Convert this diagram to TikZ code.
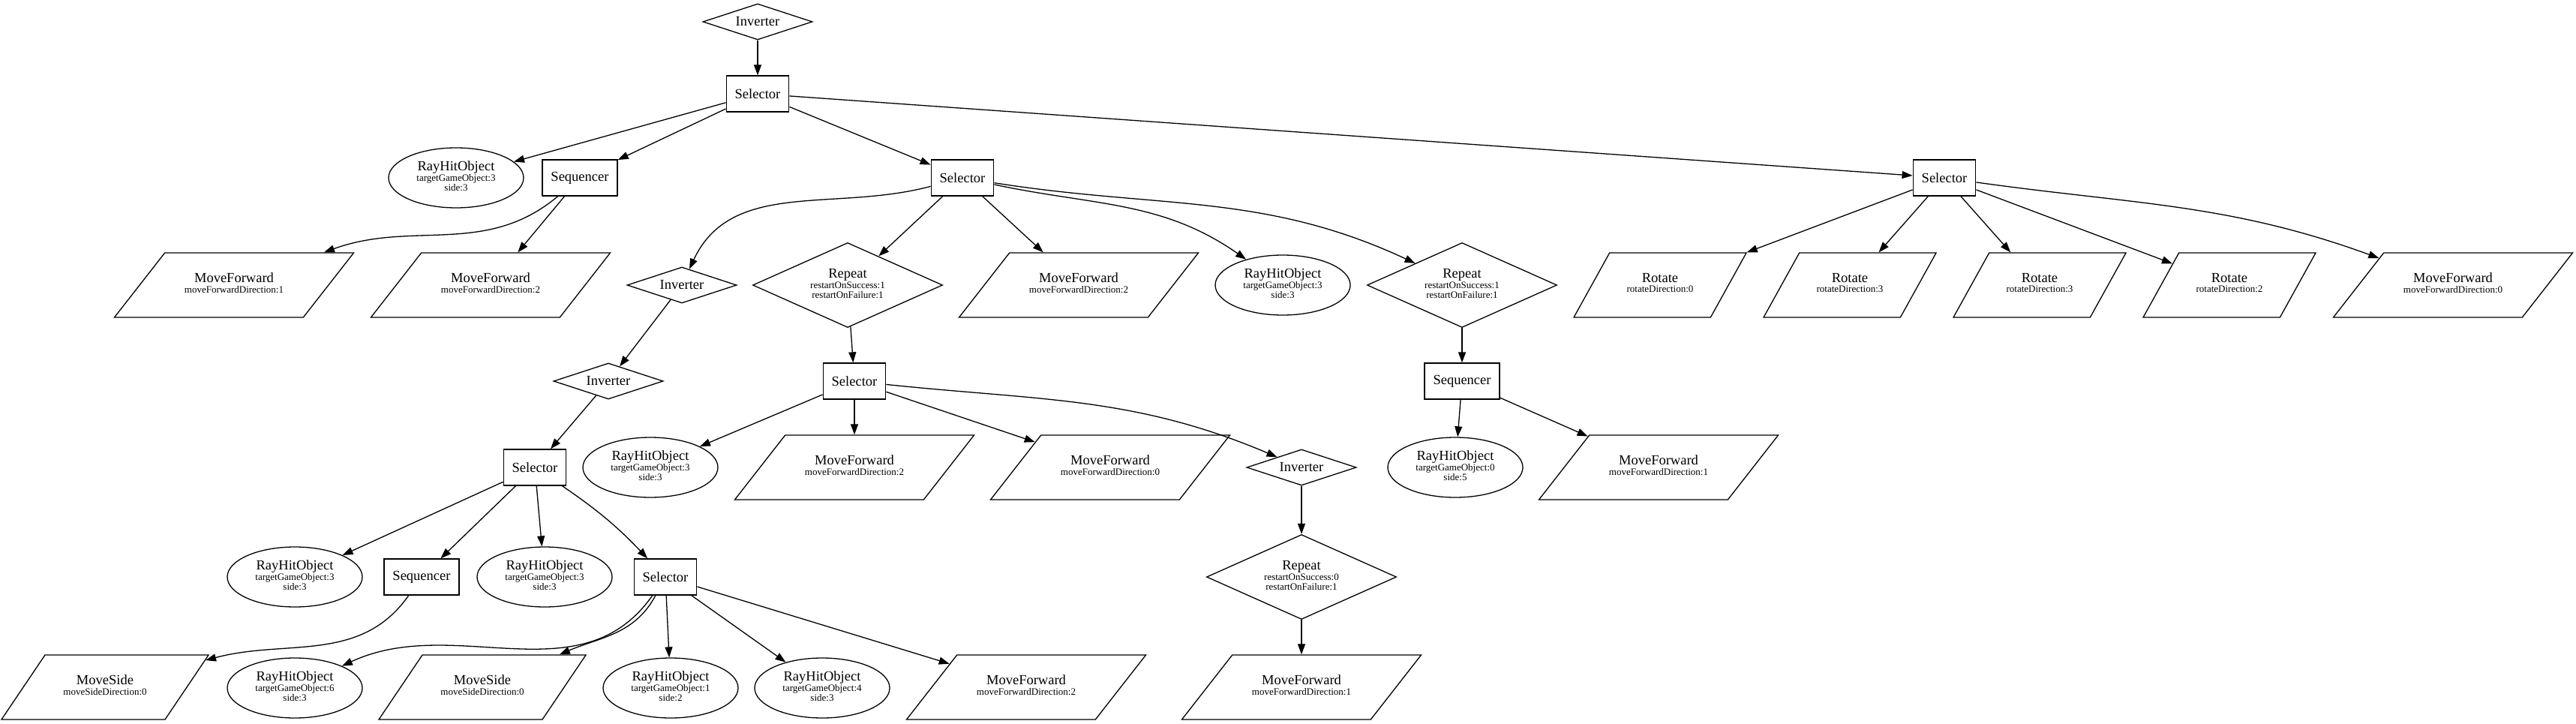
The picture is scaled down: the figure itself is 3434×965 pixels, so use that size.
\documentclass[tikz,border=0pt]{standalone}
\usepackage{fontspec}
\setmainfont{Liberation Serif}
\usetikzlibrary{shapes.geometric,arrows.meta}
\newcommand{\mainsize}{\fontsize{18.5}{20}\selectfont}
\newcommand{\subsize}{\fontsize{13}{13.5}\selectfont}
\newcommand{\nodelabel}[2]{\begin{tabular}{@{}c@{}}\mainsize #1\\ #2\end{tabular}}
\begin{document}
\begin{tikzpicture}[x=1pt, y=-1pt,
            every node/.style={draw, line width=1.3pt, inner sep=0pt, font=\subsize},
            selbox/.style={rectangle, inner xsep=11.5pt, minimum height=48pt, font=\mainsize},
            invdia/.style={diamond, aspect=3, minimum width=146pt, minimum height=48pt, font=\mainsize},
            repdia/.style={diamond, aspect=2.2, minimum width=253pt, minimum height=113pt},
            rayell/.style={ellipse, minimum width=180pt, minimum height=80pt},
            fwdpar/.style={trapezium, trapezium left angle=52, trapezium right angle=128, trapezium stretches body, text height=45pt, text depth=41pt, minimum width=319pt},
            rotpar/.style={fwdpar, trapezium left angle=61, trapezium right angle=119, minimum width=230pt},
            sidepar/.style={fwdpar, trapezium left angle=56, trapezium right angle=124, minimum width=276pt},
            link/.style={-{Triangle[length=14pt, width=10pt]}, line width=1.3pt},
        ]
            \useasboundingbox (0,0) rectangle (3434,965);
            \node(inv0) at (1010,29) [invdia] {Inverter};
            \node(sel0) at (1010,125) [selbox] {Selector};
            \node(ray1) at (608,237) [rayell] {\nodelabel{RayHitObject}{targetGameObject:3\\ side:3}};
            \node(seq1) at (773,237) [selbox] {Sequencer};
            \node(sel1) at (1283,237) [selbox] {Selector};
            \node(sel3) at (2592,237) [selbox] {Selector};
            \node(mf1) at (312,380) [fwdpar] {\nodelabel{MoveForward}{moveForwardDirection:1}};
            \node(mf2) at (654,380) [fwdpar] {\nodelabel{MoveForward}{moveForwardDirection:2}};
            \node(inv1) at (909,380) [invdia] {Inverter};
            \node(rep1) at (1130,380) [repdia] {\nodelabel{Repeat}{restartOnSuccess:1\\ restartOnFailure:1}};
            \node(mf3) at (1438,380) [fwdpar] {\nodelabel{MoveForward}{moveForwardDirection:2}};
            \node(ray2) at (1710,380) [rayell] {\nodelabel{RayHitObject}{targetGameObject:3\\ side:3}};
            \node(rep2) at (1949,380) [repdia] {\nodelabel{Repeat}{restartOnSuccess:1\\ restartOnFailure:1}};
            \node(rot0) at (2213,380) [rotpar] {\nodelabel{Rotate}{rotateDirection:0}};
            \node(rot1) at (2466,380) [rotpar] {\nodelabel{Rotate}{rotateDirection:3}};
            \node(rot2) at (2719,380) [rotpar] {\nodelabel{Rotate}{rotateDirection:3}};
            \node(rot3) at (2972,380) [rotpar] {\nodelabel{Rotate}{rotateDirection:2}};
            \node(mf4) at (3270,380) [fwdpar] {\nodelabel{MoveForward}{moveForwardDirection:0}};
            \node(inv2) at (811,508) [invdia] {Inverter};
            \node(sel2) at (1139,508) [selbox] {Selector};
            \node(seq2) at (1949,508) [selbox] {Sequencer};
            \node(sel4) at (713,623) [selbox] {Selector};
            \node(ray4) at (867,623) [rayell] {\nodelabel{RayHitObject}{targetGameObject:3\\ side:3}};
            \node(mf5) at (1139,623) [fwdpar] {\nodelabel{MoveForward}{moveForwardDirection:2}};
            \node(mf7) at (1480,623) [fwdpar] {\nodelabel{MoveForward}{moveForwardDirection:0}};
            \node(inv3) at (1735,623) [invdia] {Inverter};
            \node(ray3) at (1940,623) [rayell] {\nodelabel{RayHitObject}{targetGameObject:0\\ side:5}};
            \node(mf9) at (2211,623) [fwdpar] {\nodelabel{MoveForward}{moveForwardDirection:1}};
            \node(ray5) at (393,769) [rayell] {\nodelabel{RayHitObject}{targetGameObject:3\\ side:3}};
            \node(seq3) at (562,769) [selbox] {Sequencer};
            \node(ray6) at (726,769) [rayell] {\nodelabel{RayHitObject}{targetGameObject:3\\ side:3}};
            \node(sel5) at (887,769) [selbox] {Selector};
            \node(rep3) at (1735,769) [repdia] {\nodelabel{Repeat}{restartOnSuccess:0\\ restartOnFailure:1}};
            \node(ms1) at (140,916) [sidepar] {\nodelabel{MoveSide}{moveSideDirection:0}};
            \node(ray7) at (393,917) [rayell] {\nodelabel{RayHitObject}{targetGameObject:6\\ side:3}};
            \node(ms2) at (643,916) [sidepar] {\nodelabel{MoveSide}{moveSideDirection:0}};
            \node(ray8) at (894,917) [rayell] {\nodelabel{RayHitObject}{targetGameObject:1\\ side:2}};
            \node(ray9) at (1096,917) [rayell] {\nodelabel{RayHitObject}{targetGameObject:4\\ side:3}};
            \node(mf6) at (1368,916) [fwdpar] {\nodelabel{MoveForward}{moveForwardDirection:2}};
            \node(mf8) at (1735,916) [fwdpar] {\nodelabel{MoveForward}{moveForwardDirection:1}};
            \draw[link] (inv0) -- (sel0);
            \draw[link] (sel0) -- (ray1);
            \draw[link] (sel0) -- (seq1);
            \draw[link] (sel0) -- (sel1);
            \draw[link] (sel0) -- (sel3);
            \draw[link] (seq1) to[out=-140, in=20] (mf1);
            \draw[link] (seq1) -- (mf2);
            \draw[link] (sel1) to[out=195, in=65] (inv1);
            \draw[link] (sel1) -- (rep1);
            \draw[link] (sel1) -- (mf3);
            \draw[link] (sel1) to[out=-12, in=145] (ray2);
            \draw[link] (sel1) to[out=-9, in=155] (rep2);
            \draw[link] (sel3) -- (rot0);
            \draw[link] (sel3) -- (rot1);
            \draw[link] (sel3) -- (rot2);
            \draw[link] (sel3) -- (rot3);
            \draw[link] (sel3) to[out=-8, in=160] (mf4);
            \draw[link] (inv1) -- (inv2);
            \draw[link] (inv2) -- (sel4);
            \draw[link] (rep1) -- (sel2);
            \draw[link] (rep2) -- (seq2);
            \draw[link] (sel2) -- (ray4);
            \draw[link] (sel2) -- (mf5);
            \draw[link] (sel2) -- (mf7);
            \draw[link] (sel2) to[out=-6, in=157] (inv3);
            \draw[link] (seq2) -- (ray3);
            \draw[link] (seq2) -- (mf9);
            \draw[link] (sel4) -- (ray5);
            \draw[link] (sel4) -- (seq3);
            \draw[link] (sel4) -- (ray6);
            \draw[link] (sel4) to[bend left=6] (sel5);
            \draw[link] (seq3) to[out=-125, in=15] (ms1);
            \draw[link] (sel5) to[out=-125, in=25] (ray7);
            \draw[link] (sel5) to[out=-118, in=23] (ms2);
            \draw[link] (sel5) -- (ray8);
            \draw[link] (sel5) -- (ray9);
            \draw[link] (sel5) -- (mf6);
            \draw[link] (inv3) -- (rep3);
            \draw[link] (rep3) -- (mf8);
        \end{tikzpicture}
\end{document}
